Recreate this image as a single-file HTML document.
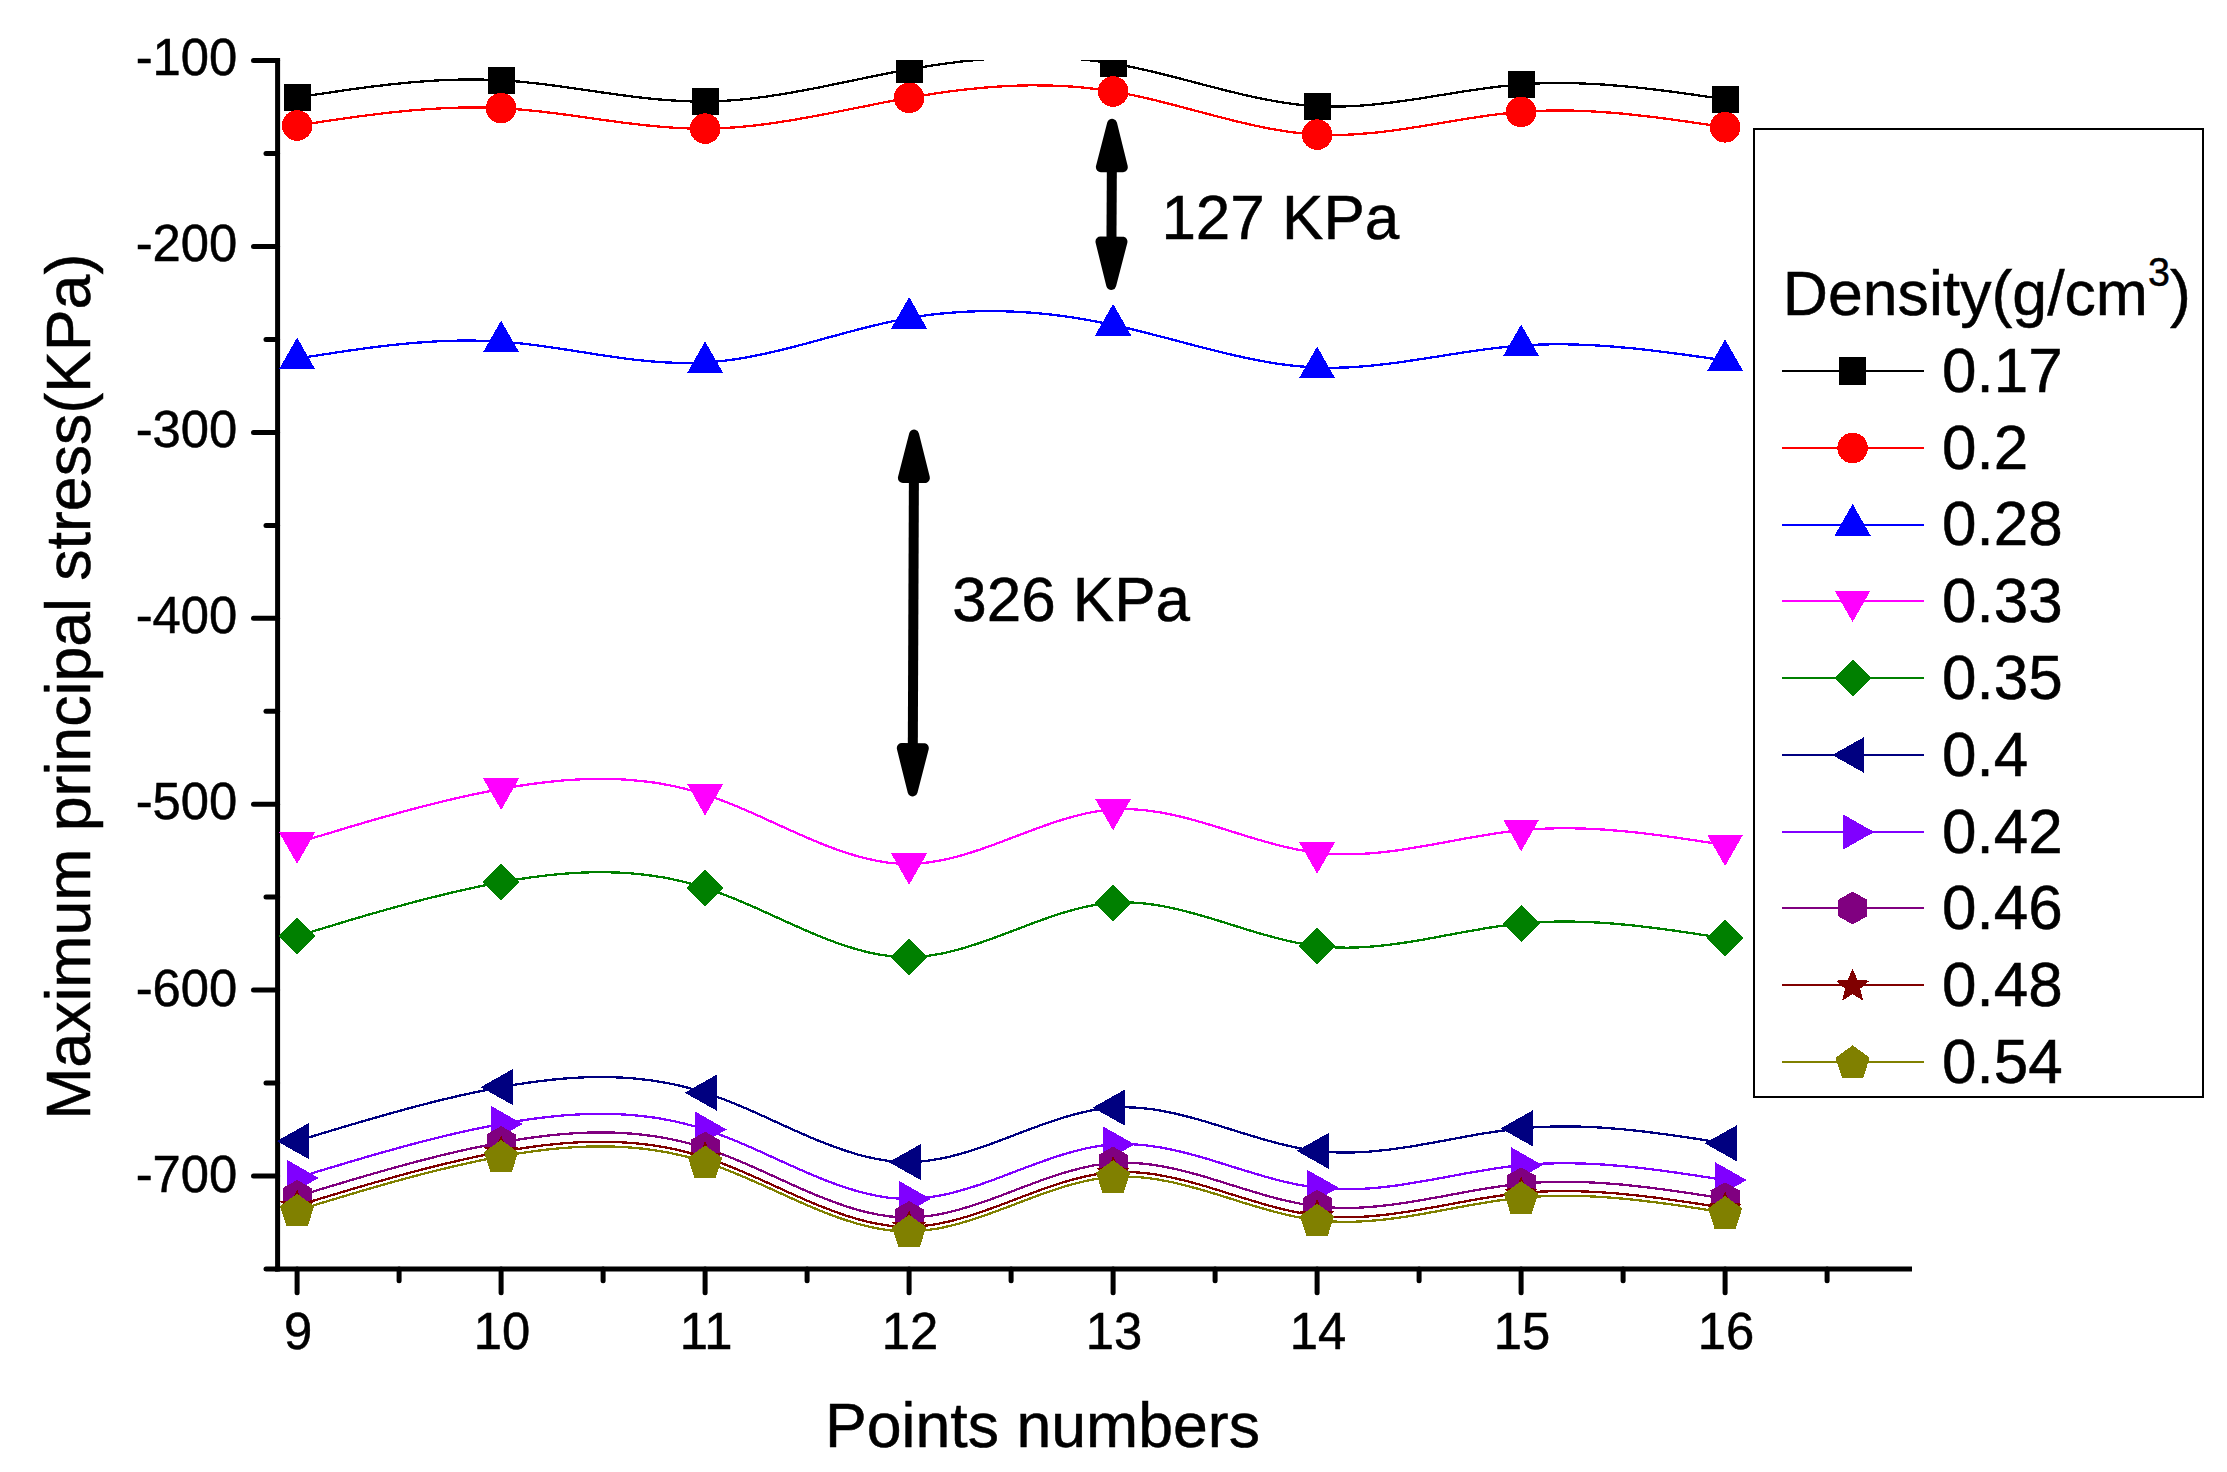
<!DOCTYPE html>
<html lang="en"><head><meta charset="utf-8"><title>Maximum principal stress vs points numbers</title>
<style>html,body{margin:0;padding:0;background:#fff;}body{width:2227px;height:1472px;overflow:hidden;}svg{display:block;}text{font-family:"Liberation Sans",Arial,Helvetica,sans-serif;fill:#000;stroke:#000;stroke-width:0.5px;}.tk{font-size:50.8px;}.tt{font-size:62px;}.tl{font-size:62.6px;}</style></head><body>
<svg width="2227" height="1472" viewBox="0 0 2227 1472">
<rect width="2227" height="1472" fill="#fff"/>
<defs><clipPath id="pc"><rect x="277.6" y="60.1" width="1674.4" height="1208.9"/></clipPath></defs>
<g stroke="#000" stroke-width="5" stroke-linecap="round" fill="none">
<line x1="253.5" y1="60.6" x2="277.6" y2="60.6"/>
<line x1="253.5" y1="246.5" x2="277.6" y2="246.5"/>
<line x1="253.5" y1="432.4" x2="277.6" y2="432.4"/>
<line x1="253.5" y1="618.3" x2="277.6" y2="618.3"/>
<line x1="253.5" y1="804.2" x2="277.6" y2="804.2"/>
<line x1="253.5" y1="990.1" x2="277.6" y2="990.1"/>
<line x1="253.5" y1="1176" x2="277.6" y2="1176"/>
<line x1="266" y1="153.6" x2="277.6" y2="153.6"/>
<line x1="266" y1="339.5" x2="277.6" y2="339.5"/>
<line x1="266" y1="525.4" x2="277.6" y2="525.4"/>
<line x1="266" y1="711.2" x2="277.6" y2="711.2"/>
<line x1="266" y1="897.1" x2="277.6" y2="897.1"/>
<line x1="266" y1="1083" x2="277.6" y2="1083"/>
<line x1="266" y1="1268.9" x2="277.6" y2="1268.9"/>
<line x1="297.1" y1="1269" x2="297.1" y2="1292.8"/>
<line x1="501.1" y1="1269" x2="501.1" y2="1292.8"/>
<line x1="705.1" y1="1269" x2="705.1" y2="1292.8"/>
<line x1="909.1" y1="1269" x2="909.1" y2="1292.8"/>
<line x1="1113.1" y1="1269" x2="1113.1" y2="1292.8"/>
<line x1="1317.1" y1="1269" x2="1317.1" y2="1292.8"/>
<line x1="1521.1" y1="1269" x2="1521.1" y2="1292.8"/>
<line x1="1725.1" y1="1269" x2="1725.1" y2="1292.8"/>
<line x1="399.1" y1="1269" x2="399.1" y2="1280.7"/>
<line x1="603.1" y1="1269" x2="603.1" y2="1280.7"/>
<line x1="807.1" y1="1269" x2="807.1" y2="1280.7"/>
<line x1="1011.1" y1="1269" x2="1011.1" y2="1280.7"/>
<line x1="1215.1" y1="1269" x2="1215.1" y2="1280.7"/>
<line x1="1419.1" y1="1269" x2="1419.1" y2="1280.7"/>
<line x1="1623.1" y1="1269" x2="1623.1" y2="1280.7"/>
<line x1="1827.1" y1="1269" x2="1827.1" y2="1280.7"/>
</g>
<g stroke="#000" stroke-width="5" stroke-linecap="square" fill="none">
<line x1="277.6" y1="60.6" x2="277.6" y2="1269"/>
<line x1="277.6" y1="1269" x2="1909.5" y2="1269"/>
</g>
<g clip-path="url(#pc)" shape-rendering="crispEdges">
<path d="M297.1 97.4 L307.3 95.8 L317.5 94.3 L327.7 92.8 L337.9 91.3 L348.1 89.8 L358.3 88.4 L368.5 87 L378.7 85.8 L388.9 84.6 L399.1 83.5 L409.3 82.5 L419.5 81.7 L429.7 80.9 L439.9 80.3 L450.1 79.9 L460.3 79.6 L470.5 79.5 L480.7 79.6 L490.9 79.8 L501.1 80.3 L511.3 81 L521.5 81.8 L531.7 82.9 L541.9 84 L552.1 85.3 L562.3 86.7 L572.5 88.1 L582.7 89.6 L592.9 91.1 L603.1 92.6 L613.3 94 L623.5 95.4 L633.7 96.7 L643.9 97.9 L654.1 99 L664.3 99.9 L674.5 100.6 L684.7 101.2 L694.9 101.5 L705.1 101.5 L715.3 101.3 L725.5 100.8 L735.7 100 L745.9 99.1 L756.1 97.9 L766.3 96.6 L776.5 95 L786.7 93.4 L796.9 91.6 L807.1 89.7 L817.3 87.8 L827.5 85.7 L837.7 83.6 L847.9 81.5 L858.1 79.4 L868.3 77.3 L878.5 75.2 L888.7 73.2 L898.9 71.2 L909.1 69.3 L919.3 67.6 L929.5 65.9 L939.7 64.4 L949.9 63 L960.1 61.7 L970.3 60.6 L980.5 59.6 L990.7 58.8 L1000.9 58.1 L1011.1 57.7 L1021.3 57.3 L1031.5 57.2 L1041.7 57.3 L1051.9 57.5 L1062.1 58 L1072.3 58.7 L1082.5 59.5 L1092.7 60.7 L1102.9 62 L1113.1 63.6 L1123.3 65.4 L1133.5 67.4 L1143.7 69.6 L1153.9 72 L1164.1 74.5 L1174.3 77.1 L1184.5 79.7 L1194.7 82.4 L1204.9 85.1 L1215.1 87.7 L1225.3 90.3 L1235.5 92.8 L1245.7 95.2 L1255.9 97.5 L1266.1 99.5 L1276.3 101.4 L1286.5 103 L1296.7 104.4 L1306.9 105.4 L1317.1 106.1 L1327.3 106.5 L1337.5 106.6 L1347.7 106.3 L1357.9 105.8 L1368.1 105 L1378.3 104 L1388.5 102.9 L1398.7 101.5 L1408.9 100.1 L1419.1 98.6 L1429.3 97 L1439.5 95.3 L1449.7 93.7 L1459.9 92 L1470.1 90.5 L1480.3 89 L1490.5 87.6 L1500.7 86.4 L1510.9 85.3 L1521.1 84.4 L1531.3 83.7 L1541.5 83.3 L1551.7 83.1 L1561.9 83 L1572.1 83.1 L1582.3 83.5 L1592.5 83.9 L1602.7 84.5 L1612.9 85.3 L1623.1 86.2 L1633.3 87.1 L1643.5 88.2 L1653.7 89.4 L1663.9 90.7 L1674.1 92 L1684.3 93.4 L1694.5 94.8 L1704.7 96.3 L1714.9 97.8 L1725.1 99.3" fill="none" stroke="#000000" stroke-width="2.3" stroke-linejoin="round"/>
<rect x="283.5" y="83.8" width="27.2" height="27.2" fill="#000000"/>
<rect x="487.5" y="66.7" width="27.2" height="27.2" fill="#000000"/>
<rect x="691.5" y="87.9" width="27.2" height="27.2" fill="#000000"/>
<rect x="895.5" y="55.7" width="27.2" height="27.2" fill="#000000"/>
<rect x="1099.5" y="50" width="27.2" height="27.2" fill="#000000"/>
<rect x="1303.5" y="92.5" width="27.2" height="27.2" fill="#000000"/>
<rect x="1507.5" y="70.8" width="27.2" height="27.2" fill="#000000"/>
<rect x="1711.5" y="85.7" width="27.2" height="27.2" fill="#000000"/>
<path d="M297.1 125.5 L307.3 123.9 L317.5 122.4 L327.7 120.8 L337.9 119.4 L348.1 117.9 L358.3 116.5 L368.5 115.2 L378.7 113.9 L388.9 112.7 L399.1 111.6 L409.3 110.6 L419.5 109.8 L429.7 109 L439.9 108.4 L450.1 107.9 L460.3 107.6 L470.5 107.5 L480.7 107.5 L490.9 107.8 L501.1 108.2 L511.3 108.8 L521.5 109.6 L531.7 110.6 L541.9 111.7 L552.1 112.9 L562.3 114.2 L572.5 115.6 L582.7 117 L592.9 118.5 L603.1 119.9 L613.3 121.3 L623.5 122.7 L633.7 123.9 L643.9 125.1 L654.1 126.1 L664.3 127 L674.5 127.8 L684.7 128.3 L694.9 128.6 L705.1 128.6 L715.3 128.4 L725.5 128 L735.7 127.3 L745.9 126.4 L756.1 125.3 L766.3 124 L776.5 122.6 L786.7 121 L796.9 119.3 L807.1 117.5 L817.3 115.6 L827.5 113.7 L837.7 111.7 L847.9 109.6 L858.1 107.6 L868.3 105.6 L878.5 103.5 L888.7 101.5 L898.9 99.6 L909.1 97.8 L919.3 96 L929.5 94.4 L939.7 92.8 L949.9 91.4 L960.1 90.1 L970.3 89 L980.5 88 L990.7 87.1 L1000.9 86.4 L1011.1 85.9 L1021.3 85.5 L1031.5 85.3 L1041.7 85.4 L1051.9 85.6 L1062.1 86 L1072.3 86.6 L1082.5 87.5 L1092.7 88.6 L1102.9 89.9 L1113.1 91.5 L1123.3 93.3 L1133.5 95.3 L1143.7 97.5 L1153.9 99.9 L1164.1 102.5 L1174.3 105.1 L1184.5 107.8 L1194.7 110.5 L1204.9 113.2 L1215.1 115.9 L1225.3 118.5 L1235.5 121.1 L1245.7 123.5 L1255.9 125.8 L1266.1 127.9 L1276.3 129.8 L1286.5 131.4 L1296.7 132.8 L1306.9 133.9 L1317.1 134.6 L1327.3 135 L1337.5 135 L1347.7 134.7 L1357.9 134.1 L1368.1 133.3 L1378.3 132.3 L1388.5 131.1 L1398.7 129.7 L1408.9 128.2 L1419.1 126.6 L1429.3 124.9 L1439.5 123.2 L1449.7 121.5 L1459.9 119.8 L1470.1 118.2 L1480.3 116.7 L1490.5 115.2 L1500.7 113.9 L1510.9 112.8 L1521.1 111.9 L1531.3 111.2 L1541.5 110.8 L1551.7 110.5 L1561.9 110.5 L1572.1 110.6 L1582.3 110.9 L1592.5 111.4 L1602.7 112.1 L1612.9 112.8 L1623.1 113.7 L1633.3 114.8 L1643.5 115.9 L1653.7 117.1 L1663.9 118.4 L1674.1 119.8 L1684.3 121.2 L1694.5 122.7 L1704.7 124.2 L1714.9 125.8 L1725.1 127.3" fill="none" stroke="#ff0000" stroke-width="2.3" stroke-linejoin="round"/>
<circle cx="297.1" cy="125.5" r="15.3" fill="#ff0000"/>
<circle cx="501.1" cy="108.2" r="15.3" fill="#ff0000"/>
<circle cx="705.1" cy="128.6" r="15.3" fill="#ff0000"/>
<circle cx="909.1" cy="97.8" r="15.3" fill="#ff0000"/>
<circle cx="1113.1" cy="91.5" r="15.3" fill="#ff0000"/>
<circle cx="1317.1" cy="134.6" r="15.3" fill="#ff0000"/>
<circle cx="1521.1" cy="111.9" r="15.3" fill="#ff0000"/>
<circle cx="1725.1" cy="127.3" r="15.3" fill="#ff0000"/>
<path d="M297.1 358.6 L307.3 357 L317.5 355.4 L327.7 353.8 L337.9 352.2 L348.1 350.7 L358.3 349.3 L368.5 347.9 L378.7 346.6 L388.9 345.4 L399.1 344.3 L409.3 343.3 L419.5 342.5 L429.7 341.8 L439.9 341.2 L450.1 340.8 L460.3 340.6 L470.5 340.6 L480.7 340.7 L490.9 341.1 L501.1 341.7 L511.3 342.5 L521.5 343.5 L531.7 344.7 L541.9 346 L552.1 347.5 L562.3 349 L572.5 350.6 L582.7 352.2 L592.9 353.8 L603.1 355.4 L613.3 356.9 L623.5 358.3 L633.7 359.6 L643.9 360.7 L654.1 361.6 L664.3 362.3 L674.5 362.8 L684.7 363 L694.9 362.9 L705.1 362.5 L715.3 361.7 L725.5 360.6 L735.7 359.2 L745.9 357.5 L756.1 355.5 L766.3 353.4 L776.5 351.1 L786.7 348.6 L796.9 346 L807.1 343.3 L817.3 340.5 L827.5 337.7 L837.7 335 L847.9 332.2 L858.1 329.5 L868.3 326.9 L878.5 324.5 L888.7 322.1 L898.9 320 L909.1 318.1 L919.3 316.4 L929.5 314.9 L939.7 313.7 L949.9 312.8 L960.1 312 L970.3 311.5 L980.5 311.2 L990.7 311.1 L1000.9 311.2 L1011.1 311.5 L1021.3 312 L1031.5 312.7 L1041.7 313.6 L1051.9 314.7 L1062.1 316 L1072.3 317.4 L1082.5 319.1 L1092.7 320.9 L1102.9 322.8 L1113.1 324.9 L1123.3 327.2 L1133.5 329.6 L1143.7 332.2 L1153.9 334.8 L1164.1 337.4 L1174.3 340.1 L1184.5 342.8 L1194.7 345.5 L1204.9 348.1 L1215.1 350.7 L1225.3 353.2 L1235.5 355.6 L1245.7 357.8 L1255.9 359.9 L1266.1 361.8 L1276.3 363.5 L1286.5 364.9 L1296.7 366.1 L1306.9 366.9 L1317.1 367.5 L1327.3 367.8 L1337.5 367.7 L1347.7 367.4 L1357.9 366.8 L1368.1 365.9 L1378.3 364.9 L1388.5 363.7 L1398.7 362.4 L1408.9 360.9 L1419.1 359.4 L1429.3 357.8 L1439.5 356.2 L1449.7 354.6 L1459.9 353 L1470.1 351.5 L1480.3 350 L1490.5 348.7 L1500.7 347.5 L1510.9 346.4 L1521.1 345.6 L1531.3 345 L1541.5 344.5 L1551.7 344.3 L1561.9 344.3 L1572.1 344.4 L1582.3 344.8 L1592.5 345.2 L1602.7 345.8 L1612.9 346.6 L1623.1 347.5 L1633.3 348.4 L1643.5 349.5 L1653.7 350.7 L1663.9 352 L1674.1 353.3 L1684.3 354.6 L1694.5 356.1 L1704.7 357.5 L1714.9 359 L1725.1 360.5" fill="none" stroke="#0000ff" stroke-width="2.3" stroke-linejoin="round"/>
<polygon points="297.1,337.5 315.1,369.1 279.1,369.1" fill="#0000ff"/>
<polygon points="501.1,320.6 519.1,352.2 483.1,352.2" fill="#0000ff"/>
<polygon points="705.1,341.4 723.1,373 687.1,373" fill="#0000ff"/>
<polygon points="909.1,297 927.1,328.6 891.1,328.6" fill="#0000ff"/>
<polygon points="1113.1,303.9 1131.1,335.5 1095.1,335.5" fill="#0000ff"/>
<polygon points="1317.1,346.5 1335.1,378.1 1299.1,378.1" fill="#0000ff"/>
<polygon points="1521.1,324.5 1539.1,356.1 1503.1,356.1" fill="#0000ff"/>
<polygon points="1725.1,339.4 1743.1,371 1707.1,371" fill="#0000ff"/>
<path d="M297.1 842.9 L307.3 839.8 L317.5 836.6 L327.7 833.6 L337.9 830.5 L348.1 827.4 L358.3 824.4 L368.5 821.4 L378.7 818.5 L388.9 815.6 L399.1 812.8 L409.3 810 L419.5 807.3 L429.7 804.7 L439.9 802.1 L450.1 799.7 L460.3 797.3 L470.5 795.1 L480.7 792.9 L490.9 790.9 L501.1 789 L511.3 787.2 L521.5 785.5 L531.7 784 L541.9 782.7 L552.1 781.5 L562.3 780.5 L572.5 779.8 L582.7 779.2 L592.9 778.9 L603.1 778.9 L613.3 779 L623.5 779.5 L633.7 780.3 L643.9 781.3 L654.1 782.6 L664.3 784.3 L674.5 786.3 L684.7 788.7 L694.9 791.4 L705.1 794.5 L715.3 798 L725.5 801.8 L735.7 805.9 L745.9 810.2 L756.1 814.7 L766.3 819.3 L776.5 824 L786.7 828.6 L796.9 833.2 L807.1 837.7 L817.3 842 L827.5 846.1 L837.7 849.9 L847.9 853.3 L858.1 856.4 L868.3 859 L878.5 861.1 L888.7 862.7 L898.9 863.6 L909.1 863.9 L919.3 863.4 L929.5 862.3 L939.7 860.6 L949.9 858.4 L960.1 855.8 L970.3 852.7 L980.5 849.4 L990.7 845.8 L1000.9 842 L1011.1 838.1 L1021.3 834.3 L1031.5 830.4 L1041.7 826.7 L1051.9 823.1 L1062.1 819.8 L1072.3 816.8 L1082.5 814.2 L1092.7 812 L1102.9 810.4 L1113.1 809.4 L1123.3 809 L1133.5 809.3 L1143.7 810.1 L1153.9 811.4 L1164.1 813.1 L1174.3 815.2 L1184.5 817.6 L1194.7 820.3 L1204.9 823.3 L1215.1 826.3 L1225.3 829.5 L1235.5 832.7 L1245.7 835.9 L1255.9 839 L1266.1 841.9 L1276.3 844.7 L1286.5 847.2 L1296.7 849.4 L1306.9 851.3 L1317.1 852.7 L1327.3 853.7 L1337.5 854.2 L1347.7 854.3 L1357.9 854.1 L1368.1 853.5 L1378.3 852.6 L1388.5 851.5 L1398.7 850.2 L1408.9 848.6 L1419.1 846.9 L1429.3 845.2 L1439.5 843.3 L1449.7 841.4 L1459.9 839.5 L1470.1 837.6 L1480.3 835.9 L1490.5 834.2 L1500.7 832.7 L1510.9 831.3 L1521.1 830.2 L1531.3 829.4 L1541.5 828.8 L1551.7 828.4 L1561.9 828.2 L1572.1 828.3 L1582.3 828.5 L1592.5 828.9 L1602.7 829.5 L1612.9 830.3 L1623.1 831.2 L1633.3 832.2 L1643.5 833.3 L1653.7 834.6 L1663.9 835.9 L1674.1 837.3 L1684.3 838.8 L1694.5 840.3 L1704.7 841.9 L1714.9 843.5 L1725.1 845.1" fill="none" stroke="#ff00ff" stroke-width="2.3" stroke-linejoin="round"/>
<polygon points="297.1,863.9 315.1,832.3 279.1,832.3" fill="#ff00ff"/>
<polygon points="501.1,810 519.1,778.4 483.1,778.4" fill="#ff00ff"/>
<polygon points="705.1,815.6 723.1,784 687.1,784" fill="#ff00ff"/>
<polygon points="909.1,884.9 927.1,853.3 891.1,853.3" fill="#ff00ff"/>
<polygon points="1113.1,830.5 1131.1,798.9 1095.1,798.9" fill="#ff00ff"/>
<polygon points="1317.1,873.8 1335.1,842.2 1299.1,842.2" fill="#ff00ff"/>
<polygon points="1521.1,851.3 1539.1,819.7 1503.1,819.7" fill="#ff00ff"/>
<polygon points="1725.1,866.2 1743.1,834.6 1707.1,834.6" fill="#ff00ff"/>
<path d="M297.1 936.2 L307.3 933.1 L317.5 930 L327.7 926.9 L337.9 923.8 L348.1 920.7 L358.3 917.7 L368.5 914.7 L378.7 911.8 L388.9 908.9 L399.1 906.1 L409.3 903.3 L419.5 900.6 L429.7 898 L439.9 895.5 L450.1 893 L460.3 890.6 L470.5 888.4 L480.7 886.2 L490.9 884.2 L501.1 882.3 L511.3 880.5 L521.5 878.8 L531.7 877.3 L541.9 876 L552.1 874.8 L562.3 873.9 L572.5 873.1 L582.7 872.6 L592.9 872.2 L603.1 872.2 L613.3 872.4 L623.5 872.8 L633.7 873.6 L643.9 874.6 L654.1 876 L664.3 877.6 L674.5 879.7 L684.7 882 L694.9 884.8 L705.1 887.9 L715.3 891.3 L725.5 895.2 L735.7 899.2 L745.9 903.6 L756.1 908 L766.3 912.6 L776.5 917.3 L786.7 921.9 L796.9 926.5 L807.1 931 L817.3 935.3 L827.5 939.4 L837.7 943.2 L847.9 946.6 L858.1 949.7 L868.3 952.3 L878.5 954.4 L888.7 956 L898.9 956.9 L909.1 957.2 L919.3 956.8 L929.5 955.6 L939.7 954 L949.9 951.7 L960.1 949.1 L970.3 946 L980.5 942.7 L990.7 939.1 L1000.9 935.3 L1011.1 931.5 L1021.3 927.6 L1031.5 923.7 L1041.7 920 L1051.9 916.4 L1062.1 913.1 L1072.3 910.1 L1082.5 907.5 L1092.7 905.4 L1102.9 903.7 L1113.1 902.7 L1123.3 902.4 L1133.5 902.6 L1143.7 903.4 L1153.9 904.7 L1164.1 906.4 L1174.3 908.5 L1184.5 911 L1194.7 913.7 L1204.9 916.6 L1215.1 919.6 L1225.3 922.8 L1235.5 926 L1245.7 929.2 L1255.9 932.3 L1266.1 935.2 L1276.3 938 L1286.5 940.5 L1296.7 942.8 L1306.9 944.6 L1317.1 946 L1327.3 947 L1337.5 947.5 L1347.7 947.7 L1357.9 947.4 L1368.1 946.8 L1378.3 946 L1388.5 944.8 L1398.7 943.5 L1408.9 942 L1419.1 940.3 L1429.3 938.5 L1439.5 936.6 L1449.7 934.7 L1459.9 932.8 L1470.1 931 L1480.3 929.2 L1490.5 927.5 L1500.7 926 L1510.9 924.7 L1521.1 923.5 L1531.3 922.7 L1541.5 922.1 L1551.7 921.7 L1561.9 921.5 L1572.1 921.6 L1582.3 921.8 L1592.5 922.3 L1602.7 922.8 L1612.9 923.6 L1623.1 924.5 L1633.3 925.5 L1643.5 926.7 L1653.7 927.9 L1663.9 929.2 L1674.1 930.6 L1684.3 932.1 L1694.5 933.6 L1704.7 935.2 L1714.9 936.8 L1725.1 938.4" fill="none" stroke="#008000" stroke-width="2.3" stroke-linejoin="round"/>
<polygon points="297.1,917.7 315.6,936.2 297.1,954.7 278.6,936.2" fill="#008000"/>
<polygon points="501.1,863.8 519.6,882.3 501.1,900.8 482.6,882.3" fill="#008000"/>
<polygon points="705.1,869.4 723.6,887.9 705.1,906.4 686.6,887.9" fill="#008000"/>
<polygon points="909.1,938.7 927.6,957.2 909.1,975.7 890.6,957.2" fill="#008000"/>
<polygon points="1113.1,884.2 1131.6,902.7 1113.1,921.2 1094.6,902.7" fill="#008000"/>
<polygon points="1317.1,927.5 1335.6,946 1317.1,964.5 1298.6,946" fill="#008000"/>
<polygon points="1521.1,905 1539.6,923.5 1521.1,942 1502.6,923.5" fill="#008000"/>
<polygon points="1725.1,919.9 1743.6,938.4 1725.1,956.9 1706.6,938.4" fill="#008000"/>
<path d="M297.1 1141.1 L307.3 1137.9 L317.5 1134.8 L327.7 1131.7 L337.9 1128.7 L348.1 1125.6 L358.3 1122.6 L368.5 1119.6 L378.7 1116.7 L388.9 1113.8 L399.1 1111 L409.3 1108.2 L419.5 1105.5 L429.7 1102.9 L439.9 1100.3 L450.1 1097.9 L460.3 1095.5 L470.5 1093.3 L480.7 1091.1 L490.9 1089.1 L501.1 1087.1 L511.3 1085.3 L521.5 1083.7 L531.7 1082.2 L541.9 1080.9 L552.1 1079.7 L562.3 1078.7 L572.5 1078 L582.7 1077.4 L592.9 1077.1 L603.1 1077 L613.3 1077.2 L623.5 1077.7 L633.7 1078.4 L643.9 1079.5 L654.1 1080.8 L664.3 1082.5 L674.5 1084.5 L684.7 1086.9 L694.9 1089.6 L705.1 1092.7 L715.3 1096.2 L725.5 1100 L735.7 1104.1 L745.9 1108.4 L756.1 1112.9 L766.3 1117.5 L776.5 1122.2 L786.7 1126.8 L796.9 1131.4 L807.1 1135.9 L817.3 1140.2 L827.5 1144.2 L837.7 1148 L847.9 1151.5 L858.1 1154.6 L868.3 1157.2 L878.5 1159.3 L888.7 1160.9 L898.9 1161.8 L909.1 1162.1 L919.3 1161.6 L929.5 1160.5 L939.7 1158.8 L949.9 1156.6 L960.1 1153.9 L970.3 1150.9 L980.5 1147.5 L990.7 1144 L1000.9 1140.2 L1011.1 1136.3 L1021.3 1132.4 L1031.5 1128.6 L1041.7 1124.8 L1051.9 1121.3 L1062.1 1118 L1072.3 1115 L1082.5 1112.4 L1092.7 1110.2 L1102.9 1108.6 L1113.1 1107.6 L1123.3 1107.2 L1133.5 1107.5 L1143.7 1108.3 L1153.9 1109.5 L1164.1 1111.3 L1174.3 1113.4 L1184.5 1115.8 L1194.7 1118.5 L1204.9 1121.4 L1215.1 1124.5 L1225.3 1127.7 L1235.5 1130.9 L1245.7 1134 L1255.9 1137.1 L1266.1 1140.1 L1276.3 1142.9 L1286.5 1145.4 L1296.7 1147.6 L1306.9 1149.5 L1317.1 1150.9 L1327.3 1151.9 L1337.5 1152.4 L1347.7 1152.5 L1357.9 1152.3 L1368.1 1151.7 L1378.3 1150.8 L1388.5 1149.7 L1398.7 1148.3 L1408.9 1146.8 L1419.1 1145.1 L1429.3 1143.3 L1439.5 1141.5 L1449.7 1139.6 L1459.9 1137.7 L1470.1 1135.8 L1480.3 1134 L1490.5 1132.4 L1500.7 1130.9 L1510.9 1129.5 L1521.1 1128.4 L1531.3 1127.5 L1541.5 1126.9 L1551.7 1126.6 L1561.9 1126.4 L1572.1 1126.4 L1582.3 1126.7 L1592.5 1127.1 L1602.7 1127.7 L1612.9 1128.5 L1623.1 1129.3 L1633.3 1130.4 L1643.5 1131.5 L1653.7 1132.8 L1663.9 1134.1 L1674.1 1135.5 L1684.3 1137 L1694.5 1138.5 L1704.7 1140.1 L1714.9 1141.7 L1725.1 1143.3" fill="none" stroke="#000080" stroke-width="2.3" stroke-linejoin="round"/>
<polygon points="276.7,1141.1 308.7,1123.1 308.7,1159.1" fill="#000080"/>
<polygon points="480.7,1087.1 512.7,1069.1 512.7,1105.1" fill="#000080"/>
<polygon points="684.7,1092.7 716.7,1074.7 716.7,1110.7" fill="#000080"/>
<polygon points="888.7,1162.1 920.7,1144.1 920.7,1180.1" fill="#000080"/>
<polygon points="1092.7,1107.6 1124.7,1089.6 1124.7,1125.6" fill="#000080"/>
<polygon points="1296.7,1150.9 1328.7,1132.9 1328.7,1168.9" fill="#000080"/>
<polygon points="1500.7,1128.4 1532.7,1110.4 1532.7,1146.4" fill="#000080"/>
<polygon points="1704.7,1143.3 1736.7,1125.3 1736.7,1161.3" fill="#000080"/>
<path d="M297.1 1177.9 L307.3 1174.7 L317.5 1171.6 L327.7 1168.5 L337.9 1165.5 L348.1 1162.4 L358.3 1159.4 L368.5 1156.4 L378.7 1153.5 L388.9 1150.6 L399.1 1147.8 L409.3 1145 L419.5 1142.3 L429.7 1139.7 L439.9 1137.1 L450.1 1134.7 L460.3 1132.3 L470.5 1130.1 L480.7 1127.9 L490.9 1125.9 L501.1 1123.9 L511.3 1122.2 L521.5 1120.5 L531.7 1119 L541.9 1117.7 L552.1 1116.5 L562.3 1115.5 L572.5 1114.8 L582.7 1114.2 L592.9 1113.9 L603.1 1113.8 L613.3 1114 L623.5 1114.5 L633.7 1115.2 L643.9 1116.3 L654.1 1117.6 L664.3 1119.3 L674.5 1121.3 L684.7 1123.7 L694.9 1126.4 L705.1 1129.5 L715.3 1133 L725.5 1136.8 L735.7 1140.9 L745.9 1145.2 L756.1 1149.7 L766.3 1154.3 L776.5 1159 L786.7 1163.6 L796.9 1168.2 L807.1 1172.7 L817.3 1177 L827.5 1181.1 L837.7 1184.9 L847.9 1188.3 L858.1 1191.4 L868.3 1194 L878.5 1196.1 L888.7 1197.7 L898.9 1198.6 L909.1 1198.9 L919.3 1198.4 L929.5 1197.3 L939.7 1195.6 L949.9 1193.4 L960.1 1190.7 L970.3 1187.7 L980.5 1184.4 L990.7 1180.8 L1000.9 1177 L1011.1 1173.1 L1021.3 1169.2 L1031.5 1165.4 L1041.7 1161.7 L1051.9 1158.1 L1062.1 1154.8 L1072.3 1151.8 L1082.5 1149.2 L1092.7 1147 L1102.9 1145.4 L1113.1 1144.4 L1123.3 1144 L1133.5 1144.3 L1143.7 1145.1 L1153.9 1146.4 L1164.1 1148.1 L1174.3 1150.2 L1184.5 1152.6 L1194.7 1155.3 L1204.9 1158.2 L1215.1 1161.3 L1225.3 1164.5 L1235.5 1167.7 L1245.7 1170.8 L1255.9 1173.9 L1266.1 1176.9 L1276.3 1179.7 L1286.5 1182.2 L1296.7 1184.4 L1306.9 1186.3 L1317.1 1187.7 L1327.3 1188.7 L1337.5 1189.2 L1347.7 1189.3 L1357.9 1189.1 L1368.1 1188.5 L1378.3 1187.6 L1388.5 1186.5 L1398.7 1185.2 L1408.9 1183.6 L1419.1 1181.9 L1429.3 1180.2 L1439.5 1178.3 L1449.7 1176.4 L1459.9 1174.5 L1470.1 1172.6 L1480.3 1170.9 L1490.5 1169.2 L1500.7 1167.7 L1510.9 1166.3 L1521.1 1165.2 L1531.3 1164.4 L1541.5 1163.7 L1551.7 1163.4 L1561.9 1163.2 L1572.1 1163.3 L1582.3 1163.5 L1592.5 1163.9 L1602.7 1164.5 L1612.9 1165.3 L1623.1 1166.2 L1633.3 1167.2 L1643.5 1168.3 L1653.7 1169.6 L1663.9 1170.9 L1674.1 1172.3 L1684.3 1173.8 L1694.5 1175.3 L1704.7 1176.9 L1714.9 1178.5 L1725.1 1180.1" fill="none" stroke="#8000ff" stroke-width="2.3" stroke-linejoin="round"/>
<polygon points="318.7,1177.9 287,1159.9 287,1195.9" fill="#8000ff"/>
<polygon points="522.7,1123.9 491,1105.9 491,1141.9" fill="#8000ff"/>
<polygon points="726.7,1129.5 695,1111.5 695,1147.5" fill="#8000ff"/>
<polygon points="930.7,1198.9 899,1180.9 899,1216.9" fill="#8000ff"/>
<polygon points="1134.7,1144.4 1103,1126.4 1103,1162.4" fill="#8000ff"/>
<polygon points="1338.7,1187.7 1307,1169.7 1307,1205.7" fill="#8000ff"/>
<polygon points="1542.7,1165.2 1511,1147.2 1511,1183.2" fill="#8000ff"/>
<polygon points="1746.7,1180.1 1715,1162.1 1715,1198.1" fill="#8000ff"/>
<path d="M297.1 1196.4 L307.3 1193.3 L317.5 1190.2 L327.7 1187.1 L337.9 1184.1 L348.1 1181 L358.3 1178 L368.5 1175 L378.7 1172.1 L388.9 1169.2 L399.1 1166.4 L409.3 1163.6 L419.5 1160.9 L429.7 1158.3 L439.9 1155.7 L450.1 1153.3 L460.3 1150.9 L470.5 1148.6 L480.7 1146.5 L490.9 1144.5 L501.1 1142.5 L511.3 1140.7 L521.5 1139.1 L531.7 1137.6 L541.9 1136.3 L552.1 1135.1 L562.3 1134.1 L572.5 1133.4 L582.7 1132.8 L592.9 1132.5 L603.1 1132.4 L613.3 1132.6 L623.5 1133.1 L633.7 1133.8 L643.9 1134.9 L654.1 1136.2 L664.3 1137.9 L674.5 1139.9 L684.7 1142.3 L694.9 1145 L705.1 1148.1 L715.3 1151.6 L725.5 1155.4 L735.7 1159.5 L745.9 1163.8 L756.1 1168.3 L766.3 1172.9 L776.5 1177.6 L786.7 1182.2 L796.9 1186.8 L807.1 1191.3 L817.3 1195.6 L827.5 1199.6 L837.7 1203.4 L847.9 1206.9 L858.1 1210 L868.3 1212.6 L878.5 1214.7 L888.7 1216.3 L898.9 1217.2 L909.1 1217.5 L919.3 1217 L929.5 1215.9 L939.7 1214.2 L949.9 1212 L960.1 1209.3 L970.3 1206.3 L980.5 1202.9 L990.7 1199.4 L1000.9 1195.6 L1011.1 1191.7 L1021.3 1187.8 L1031.5 1184 L1041.7 1180.2 L1051.9 1176.7 L1062.1 1173.4 L1072.3 1170.4 L1082.5 1167.8 L1092.7 1165.6 L1102.9 1164 L1113.1 1163 L1123.3 1162.6 L1133.5 1162.9 L1143.7 1163.7 L1153.9 1164.9 L1164.1 1166.7 L1174.3 1168.8 L1184.5 1171.2 L1194.7 1173.9 L1204.9 1176.8 L1215.1 1179.9 L1225.3 1183.1 L1235.5 1186.3 L1245.7 1189.4 L1255.9 1192.5 L1266.1 1195.5 L1276.3 1198.3 L1286.5 1200.8 L1296.7 1203 L1306.9 1204.9 L1317.1 1206.3 L1327.3 1207.3 L1337.5 1207.8 L1347.7 1207.9 L1357.9 1207.7 L1368.1 1207.1 L1378.3 1206.2 L1388.5 1205.1 L1398.7 1203.7 L1408.9 1202.2 L1419.1 1200.5 L1429.3 1198.7 L1439.5 1196.9 L1449.7 1195 L1459.9 1193.1 L1470.1 1191.2 L1480.3 1189.4 L1490.5 1187.8 L1500.7 1186.3 L1510.9 1184.9 L1521.1 1183.8 L1531.3 1182.9 L1541.5 1182.3 L1551.7 1182 L1561.9 1181.8 L1572.1 1181.8 L1582.3 1182.1 L1592.5 1182.5 L1602.7 1183.1 L1612.9 1183.9 L1623.1 1184.7 L1633.3 1185.8 L1643.5 1186.9 L1653.7 1188.2 L1663.9 1189.5 L1674.1 1190.9 L1684.3 1192.4 L1694.5 1193.9 L1704.7 1195.5 L1714.9 1197.1 L1725.1 1198.7" fill="none" stroke="#800080" stroke-width="2.3" stroke-linejoin="round"/>
<polygon points="297.1,1180 311.7,1188.2 311.7,1204.6 297.1,1212.8 282.5,1204.6 282.5,1188.2" fill="#800080"/>
<polygon points="501.1,1126.1 515.7,1134.3 515.7,1150.7 501.1,1158.9 486.5,1150.7 486.5,1134.3" fill="#800080"/>
<polygon points="705.1,1131.7 719.7,1139.9 719.7,1156.3 705.1,1164.5 690.5,1156.3 690.5,1139.9" fill="#800080"/>
<polygon points="909.1,1201.1 923.7,1209.3 923.7,1225.7 909.1,1233.9 894.5,1225.7 894.5,1209.3" fill="#800080"/>
<polygon points="1113.1,1146.6 1127.7,1154.8 1127.7,1171.2 1113.1,1179.4 1098.5,1171.2 1098.5,1154.8" fill="#800080"/>
<polygon points="1317.1,1189.9 1331.7,1198.1 1331.7,1214.5 1317.1,1222.7 1302.5,1214.5 1302.5,1198.1" fill="#800080"/>
<polygon points="1521.1,1167.4 1535.7,1175.6 1535.7,1192 1521.1,1200.2 1506.5,1192 1506.5,1175.6" fill="#800080"/>
<polygon points="1725.1,1182.3 1739.7,1190.5 1739.7,1206.9 1725.1,1215.1 1710.5,1206.9 1710.5,1190.5" fill="#800080"/>
<path d="M297.1 1205.7 L307.3 1202.6 L317.5 1199.5 L327.7 1196.4 L337.9 1193.4 L348.1 1190.3 L358.3 1187.3 L368.5 1184.3 L378.7 1181.4 L388.9 1178.5 L399.1 1175.6 L409.3 1172.9 L419.5 1170.2 L429.7 1167.6 L439.9 1165 L450.1 1162.6 L460.3 1160.2 L470.5 1157.9 L480.7 1155.8 L490.9 1153.8 L501.1 1151.8 L511.3 1150 L521.5 1148.4 L531.7 1146.9 L541.9 1145.5 L552.1 1144.4 L562.3 1143.4 L572.5 1142.7 L582.7 1142.1 L592.9 1141.8 L603.1 1141.7 L613.3 1141.9 L623.5 1142.4 L633.7 1143.1 L643.9 1144.2 L654.1 1145.5 L664.3 1147.2 L674.5 1149.2 L684.7 1151.6 L694.9 1154.3 L705.1 1157.4 L715.3 1160.9 L725.5 1164.7 L735.7 1168.8 L745.9 1173.1 L756.1 1177.6 L766.3 1182.2 L776.5 1186.8 L786.7 1191.5 L796.9 1196.1 L807.1 1200.6 L817.3 1204.9 L827.5 1208.9 L837.7 1212.7 L847.9 1216.2 L858.1 1219.3 L868.3 1221.9 L878.5 1224 L888.7 1225.6 L898.9 1226.5 L909.1 1226.8 L919.3 1226.3 L929.5 1225.2 L939.7 1223.5 L949.9 1221.3 L960.1 1218.6 L970.3 1215.6 L980.5 1212.2 L990.7 1208.6 L1000.9 1204.9 L1011.1 1201 L1021.3 1197.1 L1031.5 1193.3 L1041.7 1189.5 L1051.9 1186 L1062.1 1182.7 L1072.3 1179.7 L1082.5 1177.1 L1092.7 1174.9 L1102.9 1173.3 L1113.1 1172.3 L1123.3 1171.9 L1133.5 1172.2 L1143.7 1172.9 L1153.9 1174.2 L1164.1 1176 L1174.3 1178.1 L1184.5 1180.5 L1194.7 1183.2 L1204.9 1186.1 L1215.1 1189.2 L1225.3 1192.4 L1235.5 1195.6 L1245.7 1198.7 L1255.9 1201.8 L1266.1 1204.8 L1276.3 1207.6 L1286.5 1210.1 L1296.7 1212.3 L1306.9 1214.2 L1317.1 1215.6 L1327.3 1216.6 L1337.5 1217.1 L1347.7 1217.2 L1357.9 1217 L1368.1 1216.4 L1378.3 1215.5 L1388.5 1214.4 L1398.7 1213 L1408.9 1211.5 L1419.1 1209.8 L1429.3 1208 L1439.5 1206.2 L1449.7 1204.3 L1459.9 1202.4 L1470.1 1200.5 L1480.3 1198.7 L1490.5 1197.1 L1500.7 1195.6 L1510.9 1194.2 L1521.1 1193.1 L1531.3 1192.2 L1541.5 1191.6 L1551.7 1191.2 L1561.9 1191.1 L1572.1 1191.1 L1582.3 1191.4 L1592.5 1191.8 L1602.7 1192.4 L1612.9 1193.1 L1623.1 1194 L1633.3 1195.1 L1643.5 1196.2 L1653.7 1197.4 L1663.9 1198.8 L1674.1 1200.2 L1684.3 1201.7 L1694.5 1203.2 L1704.7 1204.8 L1714.9 1206.4 L1725.1 1208" fill="none" stroke="#800000" stroke-width="2.3" stroke-linejoin="round"/>
<polygon points="297.1,1189.1 301.8,1200.5 314,1201.4 304.7,1209.4 307.6,1221.3 297.1,1215 286.6,1221.3 289.5,1209.4 280.2,1201.4 292.4,1200.5" fill="#800000"/>
<polygon points="501.1,1135.2 505.8,1146.6 518,1147.5 508.7,1155.5 511.6,1167.4 501.1,1161 490.6,1167.4 493.5,1155.5 484.2,1147.5 496.4,1146.6" fill="#800000"/>
<polygon points="705.1,1140.8 709.8,1152.1 722,1153.1 712.7,1161.1 715.6,1173 705.1,1166.6 694.6,1173 697.5,1161.1 688.2,1153.1 700.4,1152.1" fill="#800000"/>
<polygon points="909.1,1210.2 913.8,1221.5 926,1222.5 916.7,1230.4 919.6,1242.4 909.1,1236 898.6,1242.4 901.5,1230.4 892.2,1222.5 904.4,1221.5" fill="#800000"/>
<polygon points="1113.1,1155.7 1117.8,1167 1130,1168 1120.7,1176 1123.6,1187.9 1113.1,1181.5 1102.6,1187.9 1105.5,1176 1096.2,1168 1108.4,1167" fill="#800000"/>
<polygon points="1317.1,1199 1321.8,1210.3 1334,1211.3 1324.7,1219.3 1327.6,1231.2 1317.1,1224.8 1306.6,1231.2 1309.5,1219.3 1300.2,1211.3 1312.4,1210.3" fill="#800000"/>
<polygon points="1521.1,1176.5 1525.8,1187.8 1538,1188.8 1528.7,1196.8 1531.6,1208.7 1521.1,1202.3 1510.6,1208.7 1513.5,1196.8 1504.2,1188.8 1516.4,1187.8" fill="#800000"/>
<polygon points="1725.1,1191.4 1729.8,1202.7 1742,1203.7 1732.7,1211.7 1735.6,1223.6 1725.1,1217.2 1714.6,1223.6 1717.5,1211.7 1708.2,1203.7 1720.4,1202.7" fill="#800000"/>
<path d="M297.1 1210.4 L307.3 1207.3 L317.5 1204.2 L327.7 1201.1 L337.9 1198 L348.1 1195 L358.3 1191.9 L368.5 1189 L378.7 1186 L388.9 1183.1 L399.1 1180.3 L409.3 1177.5 L419.5 1174.8 L429.7 1172.2 L439.9 1169.7 L450.1 1167.2 L460.3 1164.9 L470.5 1162.6 L480.7 1160.4 L490.9 1158.4 L501.1 1156.5 L511.3 1154.7 L521.5 1153 L531.7 1151.5 L541.9 1150.2 L552.1 1149 L562.3 1148.1 L572.5 1147.3 L582.7 1146.8 L592.9 1146.4 L603.1 1146.4 L613.3 1146.6 L623.5 1147 L633.7 1147.8 L643.9 1148.8 L654.1 1150.2 L664.3 1151.8 L674.5 1153.9 L684.7 1156.2 L694.9 1159 L705.1 1162.1 L715.3 1165.5 L725.5 1169.4 L735.7 1173.5 L745.9 1177.8 L756.1 1182.3 L766.3 1186.8 L776.5 1191.5 L786.7 1196.1 L796.9 1200.7 L807.1 1205.2 L817.3 1209.5 L827.5 1213.6 L837.7 1217.4 L847.9 1220.8 L858.1 1223.9 L868.3 1226.5 L878.5 1228.6 L888.7 1230.2 L898.9 1231.1 L909.1 1231.4 L919.3 1231 L929.5 1229.8 L939.7 1228.2 L949.9 1225.9 L960.1 1223.3 L970.3 1220.2 L980.5 1216.9 L990.7 1213.3 L1000.9 1209.5 L1011.1 1205.7 L1021.3 1201.8 L1031.5 1197.9 L1041.7 1194.2 L1051.9 1190.6 L1062.1 1187.3 L1072.3 1184.3 L1082.5 1181.7 L1092.7 1179.6 L1102.9 1177.9 L1113.1 1176.9 L1123.3 1176.6 L1133.5 1176.8 L1143.7 1177.6 L1153.9 1178.9 L1164.1 1180.6 L1174.3 1182.7 L1184.5 1185.2 L1194.7 1187.9 L1204.9 1190.8 L1215.1 1193.8 L1225.3 1197 L1235.5 1200.2 L1245.7 1203.4 L1255.9 1206.5 L1266.1 1209.4 L1276.3 1212.2 L1286.5 1214.7 L1296.7 1217 L1306.9 1218.8 L1317.1 1220.2 L1327.3 1221.2 L1337.5 1221.7 L1347.7 1221.9 L1357.9 1221.6 L1368.1 1221 L1378.3 1220.2 L1388.5 1219 L1398.7 1217.7 L1408.9 1216.2 L1419.1 1214.5 L1429.3 1212.7 L1439.5 1210.8 L1449.7 1208.9 L1459.9 1207 L1470.1 1205.2 L1480.3 1203.4 L1490.5 1201.7 L1500.7 1200.2 L1510.9 1198.9 L1521.1 1197.8 L1531.3 1196.9 L1541.5 1196.3 L1551.7 1195.9 L1561.9 1195.7 L1572.1 1195.8 L1582.3 1196 L1592.5 1196.5 L1602.7 1197 L1612.9 1197.8 L1623.1 1198.7 L1633.3 1199.7 L1643.5 1200.9 L1653.7 1202.1 L1663.9 1203.4 L1674.1 1204.8 L1684.3 1206.3 L1694.5 1207.9 L1704.7 1209.4 L1714.9 1211 L1725.1 1212.6" fill="none" stroke="#808000" stroke-width="2.3" stroke-linejoin="round"/>
<polygon points="297.1,1193.7 314.2,1206.1 307.7,1226.3 286.5,1226.3 280,1206.1" fill="#808000"/>
<polygon points="501.1,1139.8 518.2,1152.2 511.7,1172.3 490.5,1172.3 484,1152.2" fill="#808000"/>
<polygon points="705.1,1145.4 722.2,1157.8 715.7,1177.9 694.5,1177.9 688,1157.8" fill="#808000"/>
<polygon points="909.1,1214.7 926.2,1227.1 919.7,1247.3 898.5,1247.3 892,1227.1" fill="#808000"/>
<polygon points="1113.1,1160.2 1130.2,1172.7 1123.7,1192.8 1102.5,1192.8 1096,1172.7" fill="#808000"/>
<polygon points="1317.1,1203.5 1334.2,1216 1327.7,1236.1 1306.5,1236.1 1300,1216" fill="#808000"/>
<polygon points="1521.1,1181.1 1538.2,1193.5 1531.7,1213.6 1510.5,1213.6 1504,1193.5" fill="#808000"/>
<polygon points="1725.1,1195.9 1742.2,1208.4 1735.7,1228.5 1714.5,1228.5 1708,1208.4" fill="#808000"/>
</g>
<text class="tk" transform="translate(237.3 74.60) scale(1 1.025)" text-anchor="end">-100</text>
<text class="tk" transform="translate(237.3 260.78) scale(1 1.025)" text-anchor="end">-200</text>
<text class="tk" transform="translate(237.3 446.96) scale(1 1.025)" text-anchor="end">-300</text>
<text class="tk" transform="translate(237.3 633.14) scale(1 1.025)" text-anchor="end">-400</text>
<text class="tk" transform="translate(237.3 819.32) scale(1 1.025)" text-anchor="end">-500</text>
<text class="tk" transform="translate(237.3 1005.50) scale(1 1.025)" text-anchor="end">-600</text>
<text class="tk" transform="translate(237.3 1191.68) scale(1 1.025)" text-anchor="end">-700</text>
<text class="tk" transform="translate(298.1 1348.70) scale(1 1.025)" text-anchor="middle">9</text>
<text class="tk" transform="translate(502.1 1348.70) scale(1 1.025)" text-anchor="middle">10</text>
<text class="tk" transform="translate(706.1 1348.70) scale(1 1.025)" text-anchor="middle">11</text>
<text class="tk" transform="translate(910.1 1348.70) scale(1 1.025)" text-anchor="middle">12</text>
<text class="tk" transform="translate(1114.1 1348.70) scale(1 1.025)" text-anchor="middle">13</text>
<text class="tk" transform="translate(1318.1 1348.70) scale(1 1.025)" text-anchor="middle">14</text>
<text class="tk" transform="translate(1522.1 1348.70) scale(1 1.025)" text-anchor="middle">15</text>
<text class="tk" transform="translate(1726.1 1348.70) scale(1 1.025)" text-anchor="middle">16</text>
<text class="tl" transform="translate(1042.5 1447.00) scale(1 1.015)" text-anchor="middle">Points numbers</text>
<text class="tl" transform="translate(90.4 686.80) rotate(-90) scale(1 1.015)" text-anchor="middle">Maximum principal stress(KPa)</text>
<g transform="translate(1112.1 118.8) rotate(0.301)" fill="#000" stroke="#000" stroke-width="10" stroke-linejoin="round"><polygon points="0,5 11,48.4 -11,48.4"/><polygon points="0,166.2 11,122.8 -11,122.8"/><line x1="0" y1="40" x2="0" y2="131.2" stroke-linejoin="miter"/></g>
<g transform="translate(914.1 429.6) rotate(0.234)" fill="#000" stroke="#000" stroke-width="10" stroke-linejoin="round"><polygon points="0,5 11,48.4 -11,48.4"/><polygon points="0,361.9 11,318.5 -11,318.5"/><line x1="0" y1="40" x2="0" y2="326.9" stroke-linejoin="miter"/></g>
<text class="tt" transform="translate(1161.4 238.80) scale(1 1.025)">127 KPa</text>
<text class="tt" transform="translate(952.2 620.90) scale(1 1.025)">326 KPa</text>
<g shape-rendering="crispEdges">
<rect x="1754" y="129.2" width="448.5" height="967.6" fill="#fff" stroke="#000" stroke-width="2"/>
<text class="tl" transform="translate(1782.8 315.10) scale(1 1.015)">Density(g/cm<tspan font-size="39.5" dy="-28.6">3</tspan><tspan dy="28.6">)</tspan></text>
<line x1="1782" y1="371" x2="1924" y2="371" stroke="#000000" stroke-width="2"/>
<rect x="1839" y="357.4" width="27.2" height="27.2" fill="#000000"/>
<text class="tt" transform="translate(1942 391.80) scale(1 1.025)">0.17</text>
<line x1="1782" y1="448" x2="1924" y2="448" stroke="#ff0000" stroke-width="2"/>
<circle cx="1852.6" cy="448" r="15.3" fill="#ff0000"/>
<text class="tt" transform="translate(1942 468.60) scale(1 1.025)">0.2</text>
<line x1="1782" y1="525" x2="1924" y2="525" stroke="#0000ff" stroke-width="2"/>
<polygon points="1852.6,503.9 1870.6,535.5 1834.6,535.5" fill="#0000ff"/>
<text class="tt" transform="translate(1942 545.40) scale(1 1.025)">0.28</text>
<line x1="1782" y1="601" x2="1924" y2="601" stroke="#ff00ff" stroke-width="2"/>
<polygon points="1852.6,622.1 1870.6,590.5 1834.6,590.5" fill="#ff00ff"/>
<text class="tt" transform="translate(1942 621.80) scale(1 1.025)">0.33</text>
<line x1="1782" y1="678" x2="1924" y2="678" stroke="#008000" stroke-width="2"/>
<polygon points="1852.6,659.5 1871.1,678 1852.6,696.5 1834.1,678" fill="#008000"/>
<text class="tt" transform="translate(1942 698.70) scale(1 1.025)">0.35</text>
<line x1="1782" y1="755" x2="1924" y2="755" stroke="#000080" stroke-width="2"/>
<polygon points="1832.2,755 1864.2,737 1864.2,773" fill="#000080"/>
<text class="tt" transform="translate(1942 776.00) scale(1 1.025)">0.4</text>
<line x1="1782" y1="832" x2="1924" y2="832" stroke="#8000ff" stroke-width="2"/>
<polygon points="1874.2,832 1842.5,814 1842.5,850" fill="#8000ff"/>
<text class="tt" transform="translate(1942 852.70) scale(1 1.025)">0.42</text>
<line x1="1782" y1="908" x2="1924" y2="908" stroke="#800080" stroke-width="2"/>
<polygon points="1852.6,891.6 1867.2,899.8 1867.2,916.2 1852.6,924.4 1838,916.2 1838,899.8" fill="#800080"/>
<text class="tt" transform="translate(1942 929.00) scale(1 1.025)">0.46</text>
<line x1="1782" y1="985" x2="1924" y2="985" stroke="#800000" stroke-width="2"/>
<polygon points="1852.6,968.4 1857.3,979.7 1869.5,980.7 1860.2,988.7 1863.1,1000.6 1852.6,994.2 1842.1,1000.6 1845,988.7 1835.7,980.7 1847.9,979.7" fill="#800000"/>
<text class="tt" transform="translate(1942 1005.70) scale(1 1.025)">0.48</text>
<line x1="1782" y1="1062" x2="1924" y2="1062" stroke="#808000" stroke-width="2"/>
<polygon points="1852.6,1045.3 1869.7,1057.7 1863.2,1077.9 1842,1077.9 1835.5,1057.7" fill="#808000"/>
<text class="tt" transform="translate(1942 1082.60) scale(1 1.025)">0.54</text>
</g>
</svg></body></html>
